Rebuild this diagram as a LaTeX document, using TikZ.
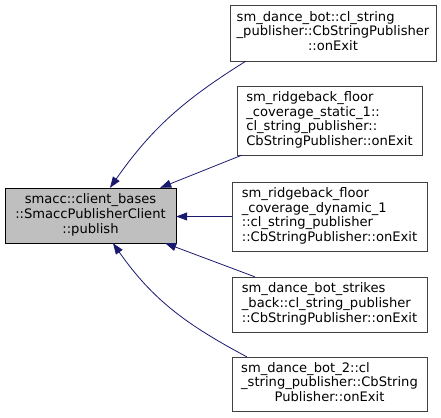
\documentclass[tikz,border=0pt]{standalone}
\usepackage{fontspec}
\setmainfont{DejaVu Sans}
\usepackage{xcolor}
\usetikzlibrary{arrows.meta}
\definecolor{midnightblue}{HTML}{191970}
\newcommand\lblock[1]{\begin{tabular}{@{}l@{}}#1\end{tabular}}
\newcommand\cenline[1]{\multicolumn{1}{@{}c@{}}{#1}}
\begin{document}
\begin{tikzpicture}[x=1pt,y=1pt,>={Triangle[length=11pt,width=8pt]},
box/.style={draw=black!75,fill=white,inner sep=0pt,font=\fontsize{13.1}{14.7}\selectfont},
edge/.style={midnightblue,<-,line width=0.8pt}]
\useasboundingbox(0,0)rectangle(441,417);
\node[box,draw=black,fill=black!25,minimum width=171,minimum height=55](main)at(90.5,201.5)
{\begin{tabular}{@{}c@{}}smacc::client\_bases\\::SmaccPublisherClient\\::publish\end{tabular}};
\node[box,minimum width=206,minimum height=56](n1)at(333,384)
{\lblock{sm\_dance\_bot::cl\_string\\\_publisher::CbStringPublisher\\\cenline{::onExit}}};
\node[box,minimum width=185,minimum height=69](n2)at(329.5,296.5)
{\lblock{sm\_ridgeback\_floor\\\_coverage\_static\_1::\\cl\_string\_publisher::\\CbStringPublisher::onExit}};
\node[box,minimum width=195,minimum height=69](n3)at(329.5,200.5)
{\lblock{sm\_ridgeback\_floor\\\_coverage\_dynamic\_1\\::cl\_string\_publisher\\::CbStringPublisher::onExit}};
\node[box,minimum width=195,minimum height=55](n4)at(329.5,112.5)
{\lblock{sm\_dance\_bot\_strikes\\\_back::cl\_string\_publisher\\::CbStringPublisher::onExit}};
\node[box,minimum width=195,minimum height=54](n5)at(329.5,33)
{\lblock{sm\_dance\_bot\_2::cl\\\_string\_publisher::CbString\\\cenline{Publisher::onExit}}};
\draw[edge]([xshift=19.5pt]main.north)to[out=55,in=212]([xshift=16pt]n1.south west);
\draw[edge]([xshift=-16pt]main.north east)--([xshift=5pt]n2.south west);
\draw[edge](n3.west-|main.east)--(n3.west);
\draw[edge]([xshift=-11pt]main.south east)--([xshift=23pt]n4.north west);
\draw[edge]([xshift=22.5pt]main.south)to[out=-55,in=152]([xshift=15pt]n5.north west);
\end{tikzpicture}
\end{document}
